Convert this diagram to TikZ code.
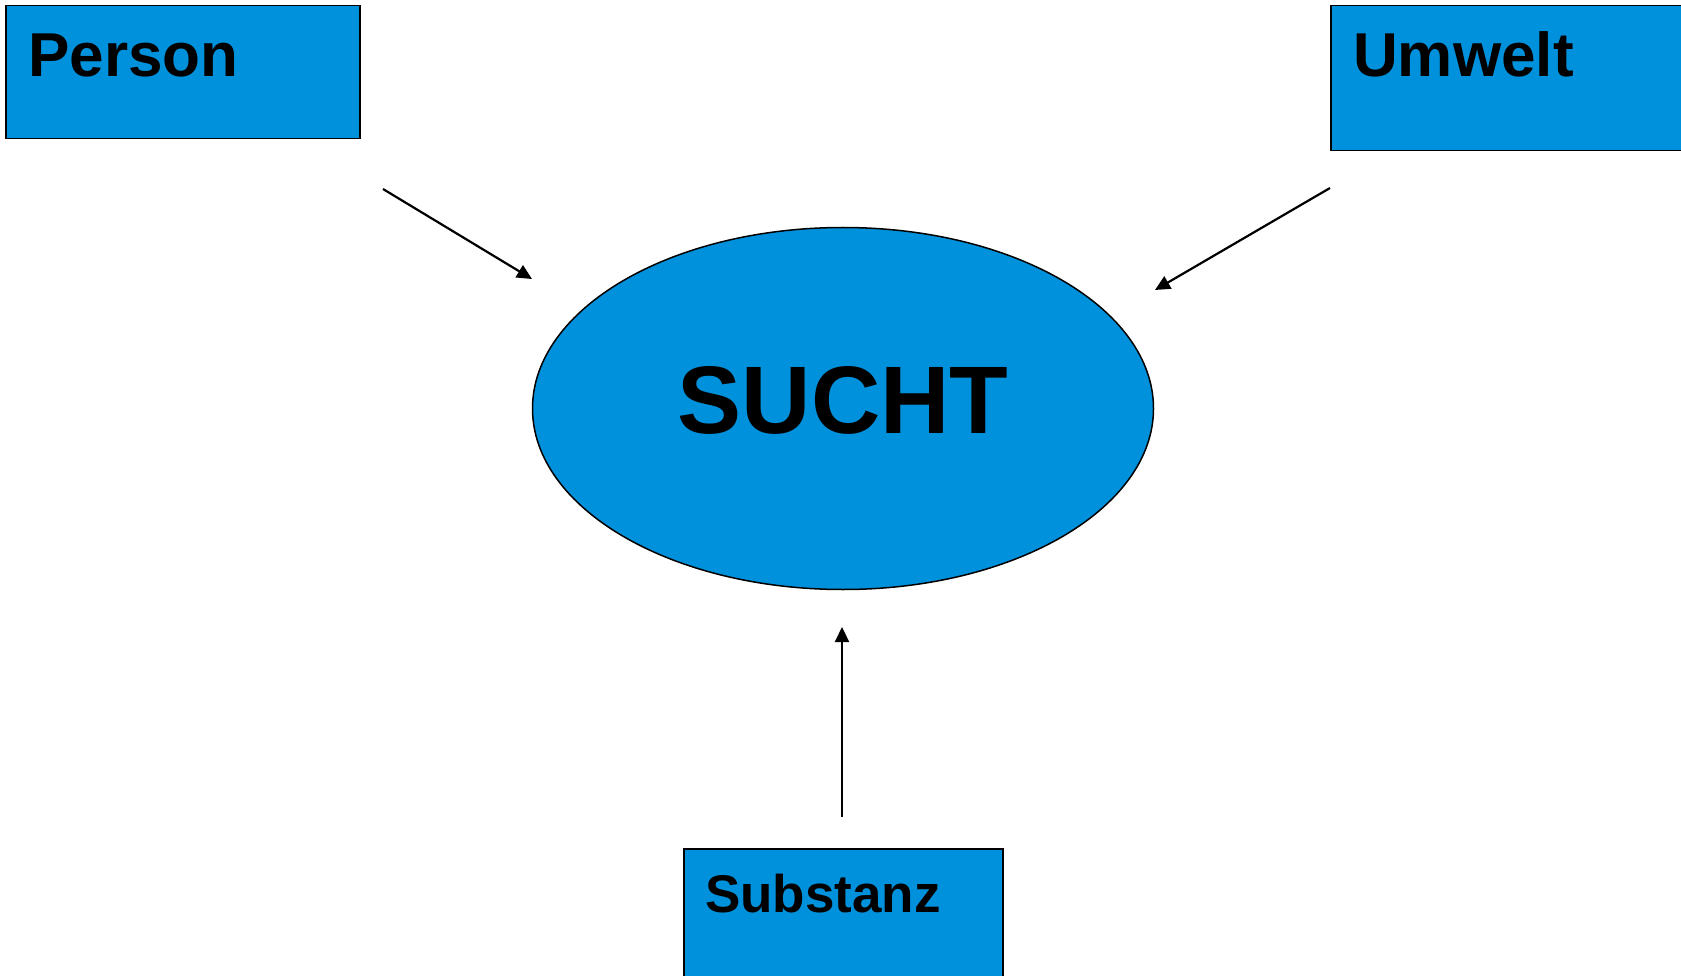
\documentclass[tikz,border=0pt]{standalone}
\usepackage{fontspec}
\setmainfont{Liberation Sans}
\usepackage{tikz}
\usetikzlibrary{arrows.meta,positioning,calc,shapes.geometric}
\definecolor{suchtblue}{HTML}{0091DC}

\begin{document}
\begin{tikzpicture}[x=1pt,y=-1pt,>={Triangle[length=15pt,width=14pt]}]
\tikzstyle{box}=[draw,line width=1.5pt,fill=suchtblue,inner sep=0pt,anchor=north west]
\tikzstyle{lbl}=[inner sep=0pt,anchor=base west,font=\bfseries\fontsize{62}{70}\selectfont]
\tikzstyle{pfeil}=[->,line width=2.2pt]
\useasboundingbox (0,0) rectangle (1681,976);
% Felder
\node[box,minimum width=354pt,minimum height=133pt] (person) at (5,5) {};
\node[box,minimum width=360pt,minimum height=145pt] (umwelt) at (1330,5) {};
\node[box,minimum width=319pt,minimum height=140pt] (substanz) at (683,848) {};
\node[lbl] (personlbl) at ($(person.north west)+(23,72)$) {Person};
\node[lbl] (umweltlbl) at ($(umwelt.north west)+(23,72)$) {Umwelt};
\node[lbl,font=\bfseries\fontsize{53}{60}\selectfont] (substanzlbl) at ($(substanz.north west)+(22,64)$) {Substanz};
% Mitte
\node[draw,ellipse,line width=1.5pt,fill=suchtblue,minimum width=621pt,minimum height=362pt,inner sep=0pt,
      text depth=17pt,font=\bfseries\fontsize{96}{100}\selectfont] (sucht) at (843,408.5) {SUCHT};
% Pfeile
\coordinate (p1) at (383,189);
\coordinate (p2) at (532,279);
\coordinate (u1) at (1330,188);
\coordinate (u2) at (1155,290);
\coordinate (s1) at (842,817);
\coordinate (s2) at (842,627);
\draw[pfeil] (p1) -- (p2);
\draw[pfeil] (u1) -- (u2);
\draw[pfeil] (s1) -- (s2);
\end{tikzpicture}
\end{document}
